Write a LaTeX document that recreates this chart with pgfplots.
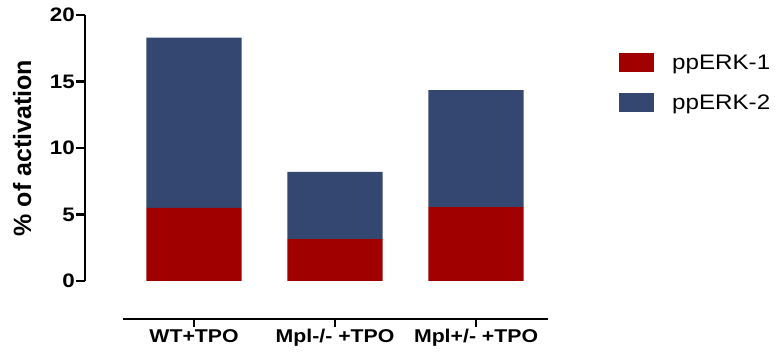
\documentclass[border=0pt]{standalone}
\usepackage{pgfplots}
\pgfplotsset{compat=1.18}
\usepackage{fontspec}
\setmainfont{Liberation Sans}[FakeStretch=1.15]
\newfontfamily\ylabfont{Liberation Sans}
\definecolor{erkone}{RGB}{160,0,0}
\definecolor{erktwo}{RGB}{52,71,112}
\begin{document}
\begin{tikzpicture}[x=1pt,y=1pt]
\path (0,0) rectangle (777,356);
\begin{axis}[
  at={(85pt,75pt)}, anchor=south west,
  scale only axis, width=475.6pt, height=266pt,
  xmin=-0.773, xmax=2.6, ymin=0, ymax=20,
  ybar stacked, bar width=0.674,
  axis x line=none, axis y line=left,
  axis line style={-, line width=2.8pt},
  ytick={0,5,10,15,20},
  tick align=outside, major tick length=9pt,
  tick style={line width=2.8pt, black},
  /pgf/number format/assume math mode=true,
  yticklabel style={font=\fontsize{19.5}{22}\selectfont\bfseries, inner sep=1pt},
  ylabel={\ylabfont\bfseries\fontsize{25}{28}\selectfont \% of activation},
  ylabel style={at={(axis description cs:-0.132,0.5)}, anchor=center},
  clip=false,
  legend image code/.code={\fill[#1,draw=none] (0pt,-9.5pt) rectangle (35pt,9.5pt);},
  legend style={draw=none, fill=none, at={(axis description cs:1.1228,0.857)}, anchor=north west,
    inner sep=0pt, row sep=21pt, column sep=18pt,
    nodes={inner sep=0pt, font=\fontsize{21}{24}\selectfont}},
  legend cell align=left,
]
\addplot[fill=erkone, draw=none] coordinates {(0,5.5) (1,3.15) (2,5.55)};
\addplot[fill=erktwo, draw=none] coordinates {(0,12.8) (1,5.05) (2,8.8)};
\legend{ppERK-1,ppERK-2}
\end{axis}
\begin{axis}[
  at={(123pt,37pt)}, anchor=south west,
  scale only axis, width=425pt, height=20pt,
  xmin=-0.504, xmax=2.51, ymin=0, ymax=1,
  axis x line=bottom, axis y line=none,
  axis line style={-, line width=2.8pt},
  xtick={0,1,2}, xticklabels={WT+TPO, Mpl-/- +TPO, Mpl+/- +TPO},
  tick align=outside, major tick length=8pt,
  tick style={line width=2.8pt, black},
  xticklabel style={font=\fontsize{18.5}{22}\selectfont\bfseries, inner sep=2pt},
]
\addplot[draw=none] coordinates {(0,0)};
\end{axis}
\end{tikzpicture}
\end{document}
